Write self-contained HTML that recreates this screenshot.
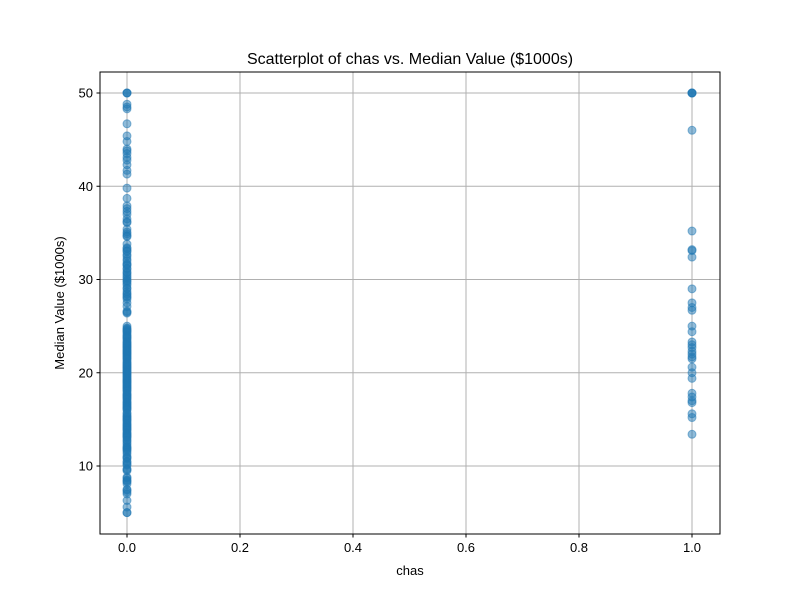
<!DOCTYPE html>
<html><head><meta charset="utf-8"><style>
body{margin:0;background:#fff;font-family:"Liberation Sans","DejaVu Sans",sans-serif}
</style></head><body>
<svg id="chart" width="800" height="600" xmlns="http://www.w3.org/2000/svg">
<rect width="800" height="600" fill="#fff"/>
<g id="grid"></g>
<g id="points"></g>
<rect x="100" y="72" width="620" height="462" fill="none" stroke="#000" stroke-width="1"/>
<g id="ticks" font-size="13" fill="#000"></g>
<text x="410" y="64" text-anchor="middle" font-size="16">Scatterplot of chas vs. Median Value ($1000s)</text>
<text x="410" y="575" text-anchor="middle" font-size="13">chas</text>
<text x="64" y="303" text-anchor="middle" font-size="13" transform="rotate(-90 64 303)">Median Value ($1000s)</text>
</svg>
<script>
const xTicks=[0,0.2,0.4,0.6,0.8,1.0];
const xTickLabels=["0.0","0.2","0.4","0.6","0.8","1.0"];
const yTicks=[10,20,30,40,50];
const yTickLabels=["10","20","30","40","50"];
const chasOne=[50,50,50,50,46,35.2,33.2,33.1,32.4,29,27.5,27,26.7,25,24.4,23.3,23,22.7,22.3,22,21.7,21.5,20.6,20,19.4,17.8,17.4,17,16.8,15.6,15.2,13.4];
const chasZero=[50,50,50,48.8,48.5,48.3,46.7,45.4,44.8,44,43.8,43.5,43.1,42.8,42.3,41.7,41.3,39.8,38.7,37.9,37.6,37.3,37,36.5,36.2,36.1,35.4,35.1,34.9,34.7,34.6,33.8,33.4,33.3,33.1,33,32.7,32.5,32.2,32,31.7,31.6,31.5,31.2,31.1,30.8,30.7,30.5,30.3,30.1,29.9,29.8,29.6,29.4,29.1,29,28.7,28.5,28.4,28.2,28.1,27.9,27.5,27.1,26.6,26.5,26.4,25,24.8,24.7,24.6,24.5,24.4,24.3,24.1,24,23.9,23.8,23.7,23.6,23.4,23.3,23.2,23.1,23,22.9,22.8,22.7,22.6,22.5,22.4,22.3,22.2,22.1,22,21.9,21.8,21.7,21.6,21.5,21.4,21.2,21.1,21,20.9,20.8,20.7,20.6,20.5,20.4,20.3,20.2,20.1,20,19.9,19.8,19.7,19.6,19.5,19.4,19.3,19.2,19.1,19,18.9,18.8,18.7,18.6,18.5,18.4,18.3,18.2,18.1,18,17.8,17.7,17.6,17.5,17.4,17.3,17.2,17.1,16.9,16.8,16.7,16.6,16.5,16.4,16.3,16.2,16.1,16,15.7,15.6,15.4,15.3,15.2,15.1,15,14.9,14.8,14.6,14.5,14.4,14.3,14.2,14.1,14,13.9,13.8,13.6,13.5,13.4,13.3,13.2,13.1,13,12.8,12.7,12.5,12.3,12.1,12,11.9,11.8,11.7,11.5,11.3,11.0,10.9,10.8,10.5,10.4,10.2,10.1,9.7,9.6,9.5,8.8,8.7,8.5,8.4,8.3,8.1,7.5,7.4,7.2,7.0,6.3,5.6,5.0,5.0];
const xs=v=>127+v*565;
const ys=v=>466-(v-10)*9.325;
const NS="http://www.w3.org/2000/svg";
const grid=document.getElementById('grid'),ticks=document.getElementById('ticks'),pts=document.getElementById('points');
function mk(t,a,p){const e=document.createElementNS(NS,t);for(const k in a)e.setAttribute(k,a[k]);p.appendChild(e);return e;}
xTicks.forEach((v,i)=>{
 const g=mk('line',{x1:xs(v),x2:xs(v),y1:72,y2:534,stroke:'#b0b0b0','stroke-width':1},grid);
 
 
 mk('line',{x1:xs(v),x2:xs(v),y1:534,y2:537.5,stroke:'#000'},ticks);
 const t=mk('text',{x:xs(v),y:552,'text-anchor':'middle'},ticks);t.textContent=xTickLabels[i];
 
 
});
yTicks.forEach((v,i)=>{
 const g=mk('line',{x1:100,x2:720,y1:ys(v),y2:ys(v),stroke:'#b0b0b0','stroke-width':1},grid);
 
 
 mk('line',{x1:96.5,x2:100,y1:ys(v),y2:ys(v),stroke:'#000'},ticks);
 const t=mk('text',{x:93,y:ys(v)+4.5,'text-anchor':'end'},ticks);t.textContent=yTickLabels[i];
 
 
});
function plot(arr,x){arr.forEach(v=>{
 const c=mk('circle',{cx:xs(x),cy:ys(v),r:4,fill:'#1f77b4','fill-opacity':0.5,stroke:'#1f77b4','stroke-opacity':0.5},pts);
 
 
});}
plot(chasZero,0);plot(chasOne,1);
</script>
</body></html>
